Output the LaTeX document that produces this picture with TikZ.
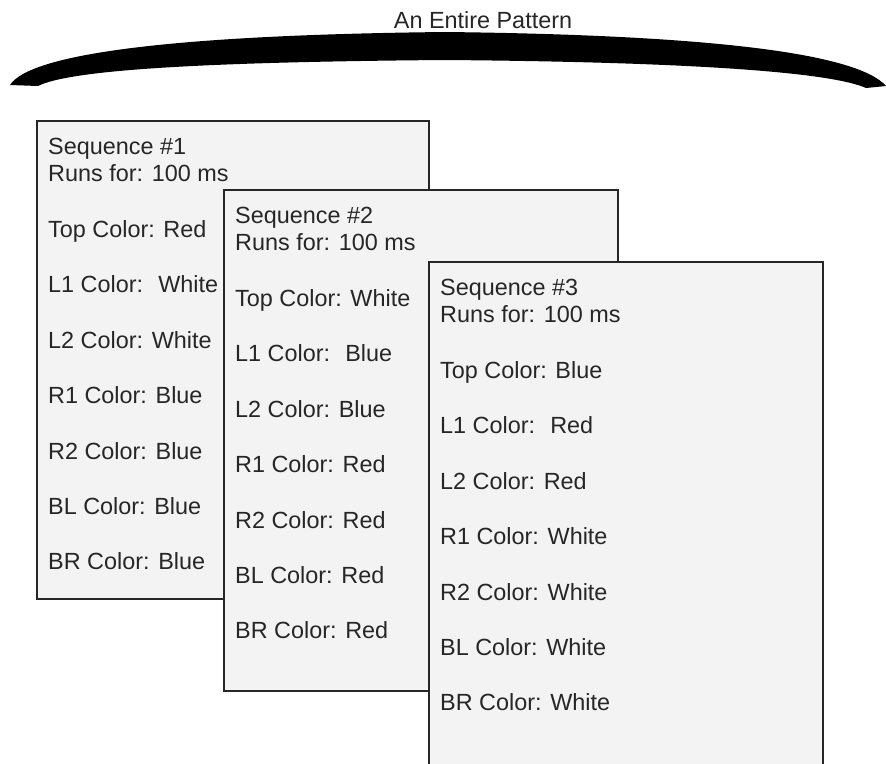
\documentclass[tikz,border=0pt]{standalone}
\usepackage{fontspec}
\setmainfont{Liberation Sans}
\usetikzlibrary{positioning}
\definecolor{boxgray}{HTML}{F3F3F3}
\definecolor{edgegray}{HTML}{262626}
\tikzstyle{seqbox}=[draw=edgegray,fill=boxgray,line width=2pt,anchor=north west,inner sep=0pt,minimum width=394pt]
\tikzstyle{lbl}=[anchor=base west,inner sep=0pt,font=\fontsize{23.4}{28}\selectfont,text=black!85]

\begin{document}
\begin{tikzpicture}[x=1pt,y=-1pt]
\useasboundingbox (0,0) rectangle (886,763);
% the brace over the whole pattern
\fill (10,85) .. controls (30,54) and (170,35) .. (445,32) .. controls (716,35) and (858,54) .. (886,86)
  -- (866,88) .. controls (830,72) and (690,62) .. (445,60) .. controls (200,62) and (70,70) .. (38,86) -- cycle;
\node[lbl,anchor=base] (title) at (483,28) {An Entire Pattern};

\begin{scope}[shift={(36,120)}]
\node[seqbox,minimum width=392pt,minimum height=478pt] (seq1) at (0,0) {};
\node[lbl] (seq1name) at (12,34) {Sequence \#1};
\node[lbl] (seq1runs) at (12,61) {Runs for: 100 ms};
\foreach \txt [count=\i] in {Top Color: Red,L1 Color: \ White,L2 Color: White,R1 Color: Blue,R2 Color: Blue,BL Color: Blue,BR Color: Blue}
  {\node[lbl] (seq1c\i) at (12,62+\i*55.4) {\txt};}
\end{scope}

\begin{scope}[shift={(223,189)}]
\node[seqbox,minimum height=501pt] (seq2) at (0,0) {};
\node[lbl] (seq2name) at (12,34) {Sequence \#2};
\node[lbl] (seq2runs) at (12,61) {Runs for: 100 ms};
\foreach \txt [count=\i] in {Top Color: White,L1 Color: \ Blue,L2 Color: Blue,R1 Color: Red,R2 Color: Red,BL Color: Red,BR Color: Red}
  {\node[lbl] (seq2c\i) at (12,62+\i*55.4) {\txt};}
\end{scope}

% runs past the bottom edge
\begin{scope}[shift={(428,261)}]
\node[seqbox,minimum height=540pt] (seq3) at (0,0) {};
\node[lbl] (seq3name) at (12,34) {Sequence \#3};
\node[lbl] (seq3runs) at (12,61) {Runs for: 100 ms};
\foreach \txt [count=\i] in {Top Color: Blue,L1 Color: \ Red,L2 Color: Red,R1 Color: White,R2 Color: White,BL Color: White,BR Color: White}
  {\node[lbl] (seq3c\i) at (12,62+\i*55.4) {\txt};}
\end{scope}
\end{tikzpicture}
\end{document}
